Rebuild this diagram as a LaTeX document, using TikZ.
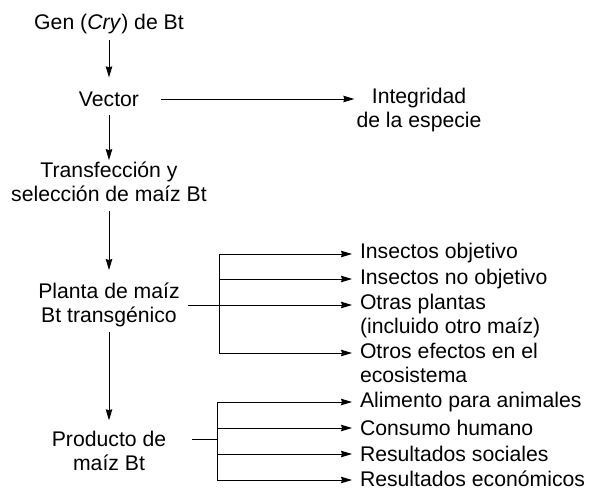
\documentclass[tikz,border=0pt]{standalone}
\usepackage{fontspec}
\setmainfont{Liberation Sans}
\usetikzlibrary{arrows.meta,positioning,calc}

\begin{document}
\begin{tikzpicture}[x=1pt, y=-1pt,
    txt/.style={inner sep=2pt, align=center, font=\fontsize{21.2}{23.5}\selectfont},
    res/.style={txt, anchor=west, align=left, outer sep=6pt},
    arr/.style={-{Stealth[length=11pt, width=6.5pt, inset=1pt]}, line width=0.9pt},
    ln/.style={line width=0.9pt}
]
\useasboundingbox (0,0) rectangle (591,490);

% left column
\node[txt] (gen) at (109,24) {Gen (\textit{Cry}) de Bt};
\node[txt] (vec) at (109,99) {Vector};
\node[txt] (trans) at (109,182) {Transfección y\\selección de maíz Bt};
\node[txt] (planta) at (109,305) {Planta de maíz\\Bt transgénico};
\node[txt] (prod) at (109,451) {Producto de\\maíz Bt};
\node[txt] (integ) at (419,110) {Integridad\\de la especie};

% effects of the plant
\node[res] (ins1) at (352,253) {Insectos objetivo};
\node[res] (ins2) at (352,279) {Insectos no objetivo};
\node[res] (otr) at (352,316) {Otras plantas\\(incluido otro maíz)};
\node[res] (eco) at (352,363) {Otros efectos en el\\ecosistema};

% uses of the product
\node[res] (ali) at (352,402) {Alimento para animales};
\node[res] (con) at (352,428) {Consumo humano};
\node[res] (soc) at (352,454) {Resultados sociales};
\node[res] (ecn) at (352,479) {Resultados económicos};

\coordinate (b1) at (219,254);
\coordinate (b2) at (219,279);
\coordinate (b3) at (219,305);
\coordinate (b4) at (219,353);
\coordinate (c1) at (217,402);
\coordinate (c2) at (217,428);
\coordinate (c3) at (217,454);
\coordinate (c4) at (217,480);
\coordinate (cm) at (217,439);

\draw[arr, shorten <=4pt, shorten >=12pt] (gen) -- (vec);
\draw[arr, shorten <=6pt] (vec) -- (trans);
\draw[arr, shorten <=7pt, shorten >=11pt] (trans) -- (planta);
\draw[arr, shorten <=3pt, shorten >=9pt] (planta) -- (prod);
\draw[arr, shorten <=20pt] (vec.east) -- (vec.east -| integ.west);

\draw[ln] (b1) -- (b4);
\draw[arr, shorten <=6pt] (planta.east |- b3) -- (b3 -| otr.west);
\draw[arr] (b1) -- (b1 -| ins1.west);
\draw[arr] (b2) -- (b2 -| ins2.west);
\draw[arr] (b4) -- (b4 -| eco.west);

\draw[ln] (c1) -- (c4);
\draw[ln, shorten <=24pt] (prod.east |- cm) -- (cm);
\draw[arr] (c1) -- (c1 -| ali.west);
\draw[arr] (c2) -- (c2 -| con.west);
\draw[arr] (c3) -- (c3 -| soc.west);
\draw[arr] (c4) -- (c4 -| ecn.west);
\end{tikzpicture}
\end{document}
